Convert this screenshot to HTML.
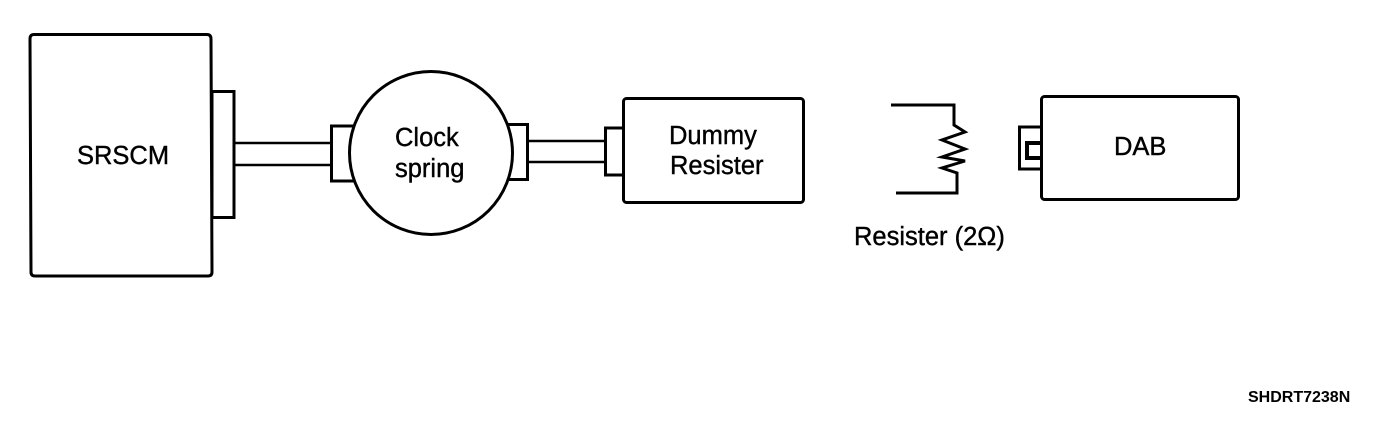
<!DOCTYPE html>
<html>
<head>
<meta charset="utf-8">
<style>
html,body{margin:0;padding:0;background:#fff}
svg{display:block}
text{font-family:"Liberation Sans",sans-serif;font-size:25.500px;fill:#000;stroke:#000;stroke-width:.4}
.s{fill:#fff;stroke:#000;stroke-width:3}
.l{fill:none;stroke:#000;stroke-width:3}
</style>
</head>
<body>
<svg width="1392" height="422" viewBox="0 0 1392 422" xmlns="http://www.w3.org/2000/svg">
<rect width="1392" height="422" fill="#fff"/>
<!-- SRSCM -->
<rect class="s" x="212" y="91.500" width="22" height="126"/>
<path class="s" d="M34 34.500H207Q211 34.500 211 39L212 272Q212 276 208 276H35Q31 276 31 272L30 39Q30 34.500 34 34.500Z"/>
<text x="77" y="164">SRSCM</text>
<!-- wires 1 -->
<path class="l" style="stroke-width:2.500" d="M234 143H331M234 165H331"/>
<!-- clock connectors -->
<rect class="s" x="331.500" y="126" width="30" height="55"/>
<rect class="s" x="500" y="124.500" width="27.500" height="55"/>
<circle class="s" cx="431" cy="153" r="81.500"/>
<text x="395" y="146">Clock</text>
<text x="395" y="177">spring</text>
<!-- wires 2 -->
<path class="l" style="stroke-width:2.500" d="M528 141H605M528 162H605"/>
<!-- Dummy -->
<rect class="s" x="605.500" y="128" width="20" height="47"/>
<rect class="s" x="623.500" y="98.500" width="180" height="104" rx="3"/>
<text x="669" y="144">Dummy</text>
<text x="670" y="174">Resister</text>
<!-- Resistor -->
<path class="l" stroke-linejoin="miter" d="M891 105H954V125L965 132L942 140L965 149L942 157L965 161L942 168L957 173V193H896"/>
<text x="854" y="245">Resister (2Ω)</text>
<!-- DAB -->
<rect class="s" x="1019.500" y="127" width="25" height="42"/>
<path fill="none" stroke="#000" stroke-width="4" d="M1041 143H1027V158H1041"/>
<rect class="s" x="1041.500" y="96.500" width="197" height="103" rx="3"/>
<text x="1114" y="155">DAB</text>
<!-- code -->
<text x="1248" y="402" style="font-size:16px;font-weight:bold;stroke-width:0">SHDRT7238N</text>
</svg>
</body>
</html>
